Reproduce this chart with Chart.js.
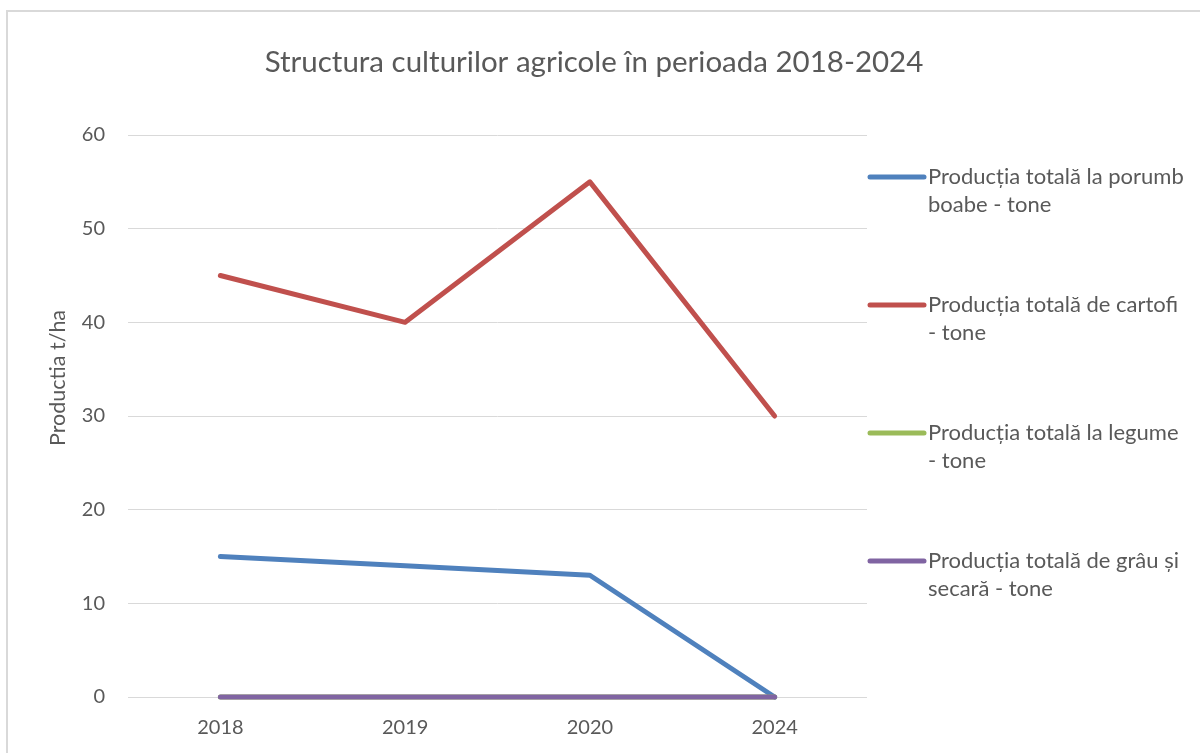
<!DOCTYPE html>
<html>
<head>
<meta charset="utf-8">
<script src="https://cdn.jsdelivr.net/npm/chart.js@4.4.0/dist/chart.umd.min.js"></script>
<style>
  body { margin: 0; background: #fff; overflow: hidden; }
  #frame {
    position: absolute; left: 6px; top: 10px; width: 1300px; height: 900px;
    border-left: 2px solid #d9d9d9; border-top: 2px solid #d9d9d9;
  }
  #chart { position: absolute; left: 0; top: 0; }
</style>
</head>
<body>
<div id="frame"></div>
<canvas id="chart" width="1200" height="753"></canvas>
<script>
// Chart data
const years = ["2018", "2019", "2020", "2024"];
const porumb = [15, 14, 13, 0];
const cartofi = [45, 40, 55, 30];
const legume = [0, 0, 0, 0];
const grau = [0, 0, 0, 0];

// legend names, already split the way the original wraps them
const seriesNames = [
  ["Producția totală la porumb", "boabe - tone"],
  ["Producția totală de cartofi", "- tone"],
  ["Producția totală la legume", "- tone"],
  ["Producția totală de grâu și", "secară - tone"],
];
const seriesColors = ["#4f81bd", "#c0504d", "#9bbb59", "#8064a2"];

const chartTitle = "Structura culturilor agricole în perioada 2018-2024";
const yTitle = "Productia t/ha";
const textColor = "#595959";
const fontFamily = "Lato, 'Open Sans', sans-serif";

// title, y-axis title and the legend on the right are drawn here
const decorPlugin = {
  id: "decor",
  afterDraw(chart) {
    const ctx = chart.ctx;
    ctx.save();
    ctx.fillStyle = textColor;

    // title
    ctx.font = "29.5px " + fontFamily;
    ctx.textAlign = "center";
    ctx.textBaseline = "middle";
    ctx.fillText(chartTitle, 594, 62);

    // y axis title
    ctx.save();
    ctx.translate(58, 378);
    ctx.rotate(-Math.PI / 2);
    ctx.font = "21.5px " + fontFamily;
    ctx.fillText(yTitle, 0, 0);
    ctx.restore();

    // legend
    ctx.font = "22px " + fontFamily;
    ctx.textAlign = "left";
    chart.data.datasets.forEach((ds, i) => {
      const y = 177 + i * 128;
      ctx.strokeStyle = ds.borderColor;
      ctx.lineWidth = 5;
      ctx.lineCap = "round";
      ctx.beginPath();
      ctx.moveTo(870, y);
      ctx.lineTo(924, y);
      ctx.stroke();
      ds.label.forEach((ln, j) => ctx.fillText(ln, 928, y + j * 28));
    });
    ctx.restore();
  },
};

const datasets = [porumb, cartofi, legume, grau].map((vals, i) => ({
  label: seriesNames[i],
  data: vals,
  borderColor: seriesColors[i],
  backgroundColor: seriesColors[i],
  borderWidth: 5,
  borderCapStyle: "round",
  borderJoinStyle: "round",
  pointRadius: 0,
  tension: 0,
  clip: false,
  order: 4 - i,
}));

new Chart(document.getElementById("chart").getContext("2d"), {
  type: "line",
  data: { labels: years, datasets: datasets },
  options: {
    responsive: false,
    animation: false,
    devicePixelRatio: 1,
    layout: { padding: { top: 135, right: 333, left: 0, bottom: 0 } },
    plugins: {
      legend: { display: false },
      title: { display: false },
      tooltip: { enabled: false },
    },
    scales: {
      x: {
        offset: true,
        grid: { display: false, drawTicks: false },
        border: { display: false },
        ticks: {
          color: textColor,
          font: { family: fontFamily, size: 20 },
          padding: 19,
        },
        afterFit(scale) { scale.height = 56; },
      },
      y: {
        min: 0,
        max: 60,
        ticks: {
          stepSize: 10,
          color: textColor,
          font: { family: fontFamily, size: 20 },
          padding: 23,
        },
        grid: { color: "#d9d9d9", lineWidth: 1, drawTicks: false },
        border: { display: false },
        afterFit(scale) { scale.width = 128; },
      },
    },
  },
  plugins: [decorPlugin],
});
</script>
</body>
</html>
